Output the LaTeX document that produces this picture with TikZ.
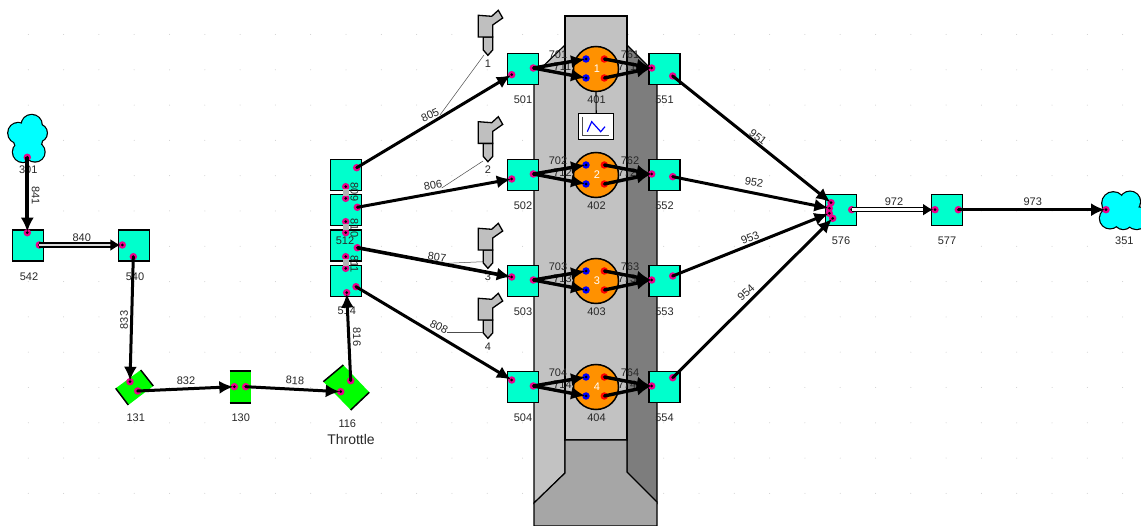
\documentclass[tikz,border=0pt]{standalone}
\usepackage{fontspec}
\setmainfont{Liberation Sans}
\usetikzlibrary{arrows.meta}

\definecolor{boxcyan}{RGB}{0,255,204}
\definecolor{cloudcyan}{RGB}{0,255,255}
\definecolor{cylorange}{RGB}{255,145,0}
\definecolor{txtgray}{RGB}{40,40,40}

\tikzset{
    every node/.style={font=\fontsize{11}{12}\selectfont, text=txtgray, inner sep=0pt},
    volume/.style={draw=black, line width=1.5pt, fill=boxcyan, minimum size=31pt},
    cyl/.style={circle, draw=black, line width=1.5pt, fill=cylorange, minimum size=45pt},
    port/.style={circle, fill=magenta, minimum size=7.5pt,
        path picture={\fill[black] (path picture bounding box.center) circle (1.5pt);}},
    portin/.style={port, fill=blue},
    portout/.style={port, fill=red},
    conn/.style={black, line width=3pt, shorten >=-3pt, -{Latex[length=14pt,width=13pt]}},
    flowpipe/.style={black, line width=1.5pt, double=white, double distance=2.6pt, shorten >=-2pt, -{Latex[length=10pt,width=12pt]}},
    injector/.style={fill=black!25, draw=black, line width=1.3pt},
    leader/.style={black!70, line width=0.5pt},
    wall/.style={draw=black, line width=1.2pt}
}

\begin{document}
\begin{tikzpicture}[x=1pt, y=-1pt]
    \useasboundingbox (0,0) rectangle (1141,526);
    \fill[white] (0,0) rectangle (1141,526);

    % Grid dots
    \foreach \i in {0,...,32} {
        \foreach \j in {0,...,14} {
            \fill[black!20] (28.3+35.3*\i, 34.5+35.3*\j) circle (0.5pt);
        }
    }

    % Engine block
    \filldraw[wall, fill=black!24] (565,45) -- (534,75) -- (534,503) -- (565,473) -- cycle;
    \filldraw[wall, fill=black!51] (627,45) -- (657,75) -- (657,503) -- (627,473) -- cycle;
    \filldraw[wall, fill=black!24] (565,16) rectangle (627,440);
    \filldraw[wall, fill=black!35] (565,440) -- (627,440) -- (627,472) -- (657,502) -- (657,526)
        -- (534,526) -- (534,503) -- (565,473) -- cycle;

    % Injectors
    \foreach \n/\dy/\ly in {1/-213/64, 2/-106.6/170, 3/0/277, 4/70/347} {
        \begin{scope}[yshift=-\dy pt]
            \filldraw[injector] (483.3,250) -- (492.7,250) -- (492.7,263) -- (487.9,268.3) -- (483.3,263) -- cycle;
            \filldraw[injector] (478.3,228.3) -- (491.7,229.3) -- (498.3,223.3) -- (502.7,231) -- (492.7,238) -- (492.7,250) -- (478.3,250) -- cycle;
        \end{scope}
        \node (inj\n) at (488,\ly) {\n};
    }

    % Cylinders and their manifolds
    \foreach \n/\y/\dyin/\dyout in {1/69/5.7/7, 2/175/4/1.7, 3/281/-4/-5, 4/387/-7/-9.3} {
        \node[volume] (in\n) at (523,\y) {};
        \node[volume] (out\n) at (664.5,\y) {};
        \node[cyl] (cyl\n) at (596,\y) {};
        \node[text=white] (num\n) at (597,\y) {\n};
        \node (lin\n) at (523,\y+30.5) {50\n};
        \node (lcyl\n) at (596.5,\y+30.5) {40\n};
        \node (lout\n) at (664.5,\y+30.5) {55\n};
        \node (e70\n) at (558,\y-14) {70\n};
        \node (e71\n) at (562.5,\y-2.5) {71\n};
        \node (e76\n) at (630,\y-14.5) {76\n};
        \node (e77\n) at (627,\y-2.5) {77\n};
        \node[port] (pa\n) at (511.7,\y+\dyin) {};
        \node[port] (pb\n) at (533.3,\y-1) {};
        \node[port] (pc\n) at (651.7,\y-1) {};
        \node[port] (pd\n) at (672.7,\y+\dyout) {};
        \node[portin] (iu\n) at (586,\y-10) {};
        \node[portin] (il\n) at (586,\y+9) {};
        \node[portout] (ou\n) at (604.3,\y-10) {};
        \node[portout] (ol\n) at (604.3,\y+9) {};
        \draw[conn, line width=3.4pt] (pb\n.center) -- (iu\n);
        \draw[conn, line width=3.4pt] (pb\n.center) -- (il\n);
        \draw[conn, line width=3.4pt] (ou\n.center) -- (pc\n);
        \draw[conn, line width=3.4pt] (ol\n.center) -- (pc\n);
    }

    % Monitor
    \node[draw=black, line width=1.4pt, fill=white, minimum width=35pt, minimum height=26pt] (mon) at (596.2,126.7) {};
    \draw[black, line width=1.2pt] (cyl1) -- (mon);
    \draw[black!70, line width=1pt] (582.7,116.7) -- (582.7,136) -- (609.3,136);
    \draw[blue, line width=1.2pt] (587.3,131.7) -- (591.7,121.7) -- (600.7,131.7) -- (605,126.7);

    % Intake stack
    \node[volume] (st1) at (346,175) {};
    \node[volume] (st2) at (346,210) {};
    \node[volume] (st3) at (346,245.5) {};
    \node[volume] (st4) at (346,281) {};
    \node (l512) at (345,240.7) {512};
    \node (l514) at (346.7,311) {514};
    \node[rotate=-90] (e809) at (354.5,192) {809};
    \node[rotate=-90] (e810) at (354.5,228) {810};
    \node[rotate=-90] (e811) at (354.5,264) {811};
    \foreach \a/\ya/\yb in {a/186.7/198.3, b/221.7/232.7, c/256.7/268.3} {
        \node[port] (u\a) at (345.7,\ya) {};
        \node[port] (d\a) at (345.7,\yb) {};
        \draw[black!30, line width=6pt, shorten <=2.5pt, shorten >=2.5pt] (u\a.center) -- (d\a.center);
    }
    \node[port] (s1) at (356.7,167.7) {};
    \node[port] (s2) at (357.3,207.3) {};
    \node[port] (s3) at (357.3,247.7) {};
    \node[port] (s4) at (356,286.7) {};
    \node[port] (s5) at (346.7,292.7) {};

    % Injector leaders
    \coordinate (t1) at (440,115);
    \coordinate (t2) at (441.7,188);
    \coordinate (t3) at (446.7,263.3);
    \coordinate (t4) at (446.7,332.7);
    \draw[leader] (484,55) -- (t1);
    \draw[leader] (483,161) -- (t2);
    \draw[leader] (483.3,261.7) -- (t3);
    \draw[leader] (483,332.7) -- (t4);

    % Runners
    \draw[conn] (s1.center) -- (pa1);
    \draw[conn] (s2.center) -- (pa2);
    \draw[conn, line width=3.6pt] (s3.center) -- (pa3);
    \draw[conn] (s4.center) -- (pa4);
    \node[rotate=25] (e805) at (430,115) {805};
    \node[rotate=10] (e806) at (433,185) {806};
    \node[rotate=-8] (e807) at (437,257) {807};
    \node[rotate=-27] (e808) at (439,327) {808};

    % Inlet side
    \foreach \cx/\cy/\r in {31.7/125/10, 18.3/133/10, 38.3/133/8.5, 23/152/10, 35/152/9.5, 28/139/14} {
        \draw[black, line width=2.4pt] (\cx,\cy) circle (\r pt);
    }
    \foreach \cx/\cy/\r in {31.7/125/10, 18.3/133/10, 38.3/133/8.5, 23/152/10, 35/152/9.5, 28/139/14} {
        \fill[cloudcyan] (\cx,\cy) circle (\r pt);
    }
    \node (l301) at (28.3,170) {301};
    \node[volume] (v542) at (28,245.6) {};
    \node[volume] (v540) at (134,245.6) {};
    \node (l542) at (29,276.7) {542};
    \node (l540) at (135,276.7) {540};
    \node[port] (p301) at (27.3,157.3) {};
    \node[port] (p542t) at (27.3,232.7) {};
    \node[port] (p542r) at (39.3,245) {};
    \node[port] (p540l) at (122.3,245) {};
    \node[port] (p540b) at (133.3,256.7) {};
    \draw[conn, line width=4pt] (p301.center) -- (p542t);
    \draw[flowpipe, double=black!15] (p542r.center) -- (p540l);
    \node[rotate=-90] (e841) at (35.7,195.7) {841};
    \node (e840) at (81.7,237.3) {840};
    \node[rotate=90] (e833) at (124,320) {833};

    % Throttle body
    \fill[green] (115.7,388.3) -- (140.7,370) -- (153.3,386) -- (128.3,405) -- cycle;
    \draw[black, line width=1.5pt] (115.7,388.3) -- (128.3,405) (140.7,370) -- (153.3,386);
    \node[fill=green, minimum width=21pt, minimum height=32pt] (v130) at (240.3,387) {};
    \draw[black, line width=1.5pt] (v130.north west) -- (v130.north east) (v130.south west) -- (v130.south east);
    \fill[green] (323.3,381.7) -- (343.3,365) -- (369.3,392.3) -- (350.7,410) -- cycle;
    \draw[black, line width=1.5pt] (323.3,381.7) -- (343.3,365) (369.3,392.3) -- (350.7,410);
    \node (l131) at (135.7,417.7) {131};
    \node (l130) at (240.7,417.7) {130};
    \node (l116) at (347.3,424) {116};
    \node[font=\fontsize{14}{15}\selectfont] (lthr) at (351,439) {Throttle};
    \node[port] (p131t) at (130,381.7) {};
    \node[port] (p131r) at (137.7,391) {};
    \node[port] (p130l) at (234.3,386.7) {};
    \node[port] (p130r) at (245.7,386.7) {};
    \node[port] (p116l) at (340.7,391.7) {};
    \node[port] (p116t) at (350.7,380.7) {};
    \draw[conn] (p540b.center) -- (p131t);
    \draw[conn] (p131r.center) -- (p130l);
    \draw[conn] (p130r.center) -- (p116l);
    \draw[conn] (p116t.center) -- (s5);
    \node (e832) at (186,380.7) {832};
    \node[rotate=-3] (e818) at (295,380.7) {818};
    \node[rotate=-90] (e816) at (357,337) {816};

    % Exhaust side
    \node[volume] (v576) at (841,210) {};
    \node[volume] (v577) at (947,210) {};
    \node (l576) at (841,240.7) {576};
    \node (l577) at (947,240.7) {577};
    \foreach \cx/\cy/\r in {1113.3/203.3/11, 1130/201.7/10, 1110/218.3/10, 1123.3/220/9, 1136.7/218/11, 1125/210/12} {
        \draw[black, line width=2.4pt] (\cx,\cy) circle (\r pt);
    }
    \foreach \cx/\cy/\r in {1113.3/203.3/11, 1130/201.7/10, 1110/218.3/10, 1123.3/220/9, 1136.7/218/11, 1125/210/12} {
        \fill[cloudcyan] (\cx,\cy) circle (\r pt);
    }
    \node (l351) at (1124.3,240.7) {351};
    \node[port] (x1) at (831,202.7) {};
    \node[port] (x2) at (829.3,208.3) {};
    \node[port] (x3) at (829.3,213.3) {};
    \node[port] (x4) at (832.7,218.3) {};
    \node[port] (x5) at (851.7,209.7) {};
    \node[port] (y1) at (935,209.7) {};
    \node[port] (y2) at (958.3,209.7) {};
    \node[port] (z1) at (1106,209.7) {};
    \draw[conn] (pd1.center) -- (x1);
    \draw[conn] (pd2.center) -- (x2);
    \draw[conn] (pd3.center) -- (x3);
    \draw[conn] (pd4.center) -- (x4);
    \draw[flowpipe] (x5.center) -- (y1);
    \draw[conn] (y2.center) -- (z1);
    \node[rotate=-38] (e951) at (758,137) {951};
    \node[rotate=-10] (e952) at (754,182) {952};
    \node[rotate=22] (e953) at (750,238) {953};
    \node[rotate=42] (e954) at (746,293) {954};
    \node (e972) at (894,201.7) {972};
    \node (e973) at (1032.7,201.7) {973};
\end{tikzpicture}
\end{document}
